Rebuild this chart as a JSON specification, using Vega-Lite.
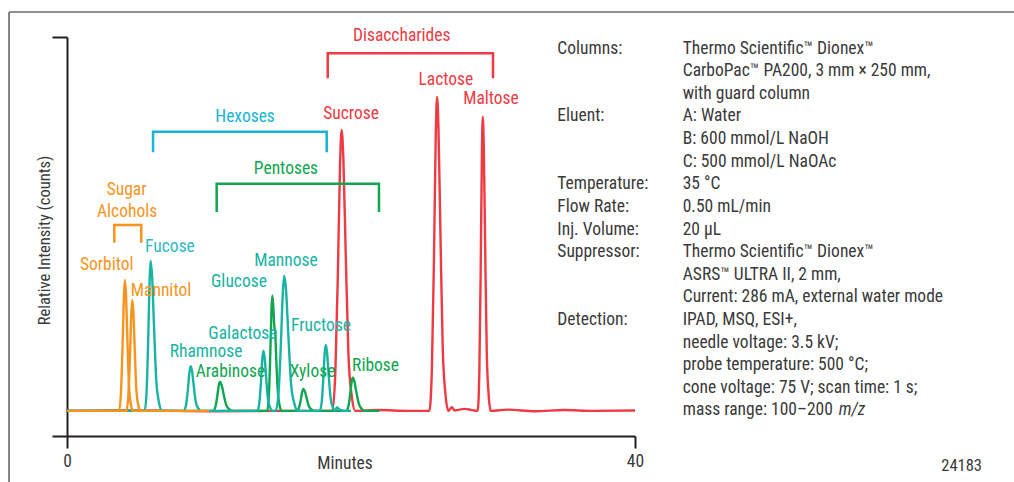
{
  "$schema": "https://vega.github.io/schema/vega-lite/v6.json",
  "width": 568,
  "height": 399,
  "autosize": {"type": "none"},
  "padding": {"left": 67, "top": 37, "right": 379, "bottom": 46},
  "background": "white",
  "config": {
    "view": {"stroke": null},
    "font": "Liberation Sans Narrow, Arial Narrow, Roboto Condensed, DejaVu Sans Condensed, sans-serif"
  },
  "datasets": {
    "traces": [
      {"s": "1r", "c": "R", "t": 0, "v": 6.3}, {"s": "1r", "c": "R", "t": 5, "v": 6.4}, {"s": "1r", "c": "R", "t": 10, "v": 6.2}, {"s": "1r", "c": "R", "t": 15, "v": 6.3},
      {"s": "1r", "c": "R", "t": 18.68, "v": 6.3}, {"s": "1r", "c": "R", "t": 18.9, "v": 16.2}, {"s": "1r", "c": "R", "t": 19.076, "v": 40.8}, {"s": "1r", "c": "R", "t": 19.23, "v": 68.3}, {"s": "1r", "c": "R", "t": 19.34, "v": 76.7}, {"s": "1r", "c": "R", "t": 19.46, "v": 69.7}, {"s": "1r", "c": "R", "t": 19.628, "v": 45.7}, {"s": "1r", "c": "R", "t": 19.82, "v": 20.4}, {"s": "1r", "c": "R", "t": 20.06, "v": 9.8}, {"s": "1r", "c": "R", "t": 20.3, "v": 6.3},
      {"s": "1r", "c": "R", "t": 22, "v": 6.5}, {"s": "1r", "c": "R", "t": 24, "v": 6.3},
      {"s": "1r", "c": "R", "t": 25.52, "v": 6.3}, {"s": "1r", "c": "R", "t": 25.7, "v": 17.3}, {"s": "1r", "c": "R", "t": 25.844, "v": 44.9}, {"s": "1r", "c": "R", "t": 25.97, "v": 75.6}, {"s": "1r", "c": "R", "t": 26.06, "v": 85.0}, {"s": "1r", "c": "R", "t": 26.16, "v": 77.1}, {"s": "1r", "c": "R", "t": 26.3, "v": 50.4}, {"s": "1r", "c": "R", "t": 26.46, "v": 22.0}, {"s": "1r", "c": "R", "t": 26.66, "v": 10.2}, {"s": "1r", "c": "R", "t": 26.86, "v": 6.3},
      {"s": "1r", "c": "R", "t": 27.1, "v": 7.2}, {"s": "1r", "c": "R", "t": 27.3, "v": 6.4}, {"s": "1r", "c": "R", "t": 28.0, "v": 6.8}, {"s": "1r", "c": "R", "t": 28.5, "v": 6.5},
      {"s": "1r", "c": "R", "t": 28.92, "v": 6.3}, {"s": "1r", "c": "R", "t": 29.04, "v": 16.6}, {"s": "1r", "c": "R", "t": 29.136, "v": 42.4}, {"s": "1r", "c": "R", "t": 29.22, "v": 71.2}, {"s": "1r", "c": "R", "t": 29.28, "v": 80.0}, {"s": "1r", "c": "R", "t": 29.35, "v": 72.6}, {"s": "1r", "c": "R", "t": 29.448, "v": 47.6}, {"s": "1r", "c": "R", "t": 29.56, "v": 21.0}, {"s": "1r", "c": "R", "t": 29.7, "v": 10.0}, {"s": "1r", "c": "R", "t": 29.84, "v": 6.3},
      {"s": "1r", "c": "R", "t": 31, "v": 6.6}, {"s": "1r", "c": "R", "t": 33, "v": 6.2}, {"s": "1r", "c": "R", "t": 35, "v": 6.5}, {"s": "1r", "c": "R", "t": 37, "v": 6.3}, {"s": "1r", "c": "R", "t": 40, "v": 6.4},

      {"s": "2g", "c": "G", "t": 0, "v": 6.3}, {"s": "2g", "c": "G", "t": 10.29, "v": 6.3}, {"s": "2g", "c": "G", "t": 10.45, "v": 7.3}, {"s": "2g", "c": "G", "t": 10.578, "v": 9.9}, {"s": "2g", "c": "G", "t": 10.69, "v": 12.7}, {"s": "2g", "c": "G", "t": 10.77, "v": 13.6}, {"s": "2g", "c": "G", "t": 10.88, "v": 12.9}, {"s": "2g", "c": "G", "t": 11.034, "v": 10.4}, {"s": "2g", "c": "G", "t": 11.21, "v": 7.8}, {"s": "2g", "c": "G", "t": 11.43, "v": 6.7}, {"s": "2g", "c": "G", "t": 11.65, "v": 6.3},
      {"s": "2g", "c": "G", "t": 14.1, "v": 6.3}, {"s": "2g", "c": "G", "t": 14.22, "v": 10.3}, {"s": "2g", "c": "G", "t": 14.316, "v": 20.5}, {"s": "2g", "c": "G", "t": 14.4, "v": 31.7}, {"s": "2g", "c": "G", "t": 14.46, "v": 35.2}, {"s": "2g", "c": "G", "t": 14.53, "v": 32.3}, {"s": "2g", "c": "G", "t": 14.6, "v": 27.5}, {"s": "2g", "c": "G", "t": 14.66, "v": 26.2}, {"s": "2g", "c": "G", "t": 14.74, "v": 19.0}, {"s": "2g", "c": "G", "t": 14.85, "v": 11.0}, {"s": "2g", "c": "G", "t": 14.98, "v": 7.5}, {"s": "2g", "c": "G", "t": 15.12, "v": 6.3},
      {"s": "2g", "c": "G", "t": 16.19, "v": 6.3}, {"s": "2g", "c": "G", "t": 16.34, "v": 7.1}, {"s": "2g", "c": "G", "t": 16.46, "v": 9.0}, {"s": "2g", "c": "G", "t": 16.565, "v": 11.1}, {"s": "2g", "c": "G", "t": 16.64, "v": 11.8}, {"s": "2g", "c": "G", "t": 16.74, "v": 11.3}, {"s": "2g", "c": "G", "t": 16.88, "v": 9.4}, {"s": "2g", "c": "G", "t": 17.04, "v": 7.4}, {"s": "2g", "c": "G", "t": 17.24, "v": 6.6}, {"s": "2g", "c": "G", "t": 17.44, "v": 6.3},
      {"s": "2g", "c": "G", "t": 19.67, "v": 6.3}, {"s": "2g", "c": "G", "t": 19.82, "v": 7.5}, {"s": "2g", "c": "G", "t": 19.94, "v": 10.4}, {"s": "2g", "c": "G", "t": 20.045, "v": 13.6}, {"s": "2g", "c": "G", "t": 20.12, "v": 14.6}, {"s": "2g", "c": "G", "t": 20.23, "v": 13.8}, {"s": "2g", "c": "G", "t": 20.384, "v": 10.9}, {"s": "2g", "c": "G", "t": 20.56, "v": 8.0}, {"s": "2g", "c": "G", "t": 20.78, "v": 6.7}, {"s": "2g", "c": "G", "t": 21.0, "v": 6.3}, {"s": "2g", "c": "G", "t": 22, "v": 6.3},

      {"s": "3t", "c": "T", "t": 0, "v": 6.3}, {"s": "3t", "c": "T", "t": 5.47, "v": 6.3}, {"s": "3t", "c": "T", "t": 5.61, "v": 11.6}, {"s": "3t", "c": "T", "t": 5.722, "v": 24.7}, {"s": "3t", "c": "T", "t": 5.82, "v": 39.4}, {"s": "3t", "c": "T", "t": 5.89, "v": 43.9}, {"s": "3t", "c": "T", "t": 5.99, "v": 40.1}, {"s": "3t", "c": "T", "t": 6.13, "v": 27.4}, {"s": "3t", "c": "T", "t": 6.29, "v": 13.8}, {"s": "3t", "c": "T", "t": 6.49, "v": 8.2}, {"s": "3t", "c": "T", "t": 6.69, "v": 6.3},
      {"s": "3t", "c": "T", "t": 8.23, "v": 6.3}, {"s": "3t", "c": "T", "t": 8.39, "v": 7.9}, {"s": "3t", "c": "T", "t": 8.518, "v": 11.8}, {"s": "3t", "c": "T", "t": 8.63, "v": 16.2}, {"s": "3t", "c": "T", "t": 8.71, "v": 17.5}, {"s": "3t", "c": "T", "t": 8.8, "v": 16.4}, {"s": "3t", "c": "T", "t": 8.926, "v": 12.6}, {"s": "3t", "c": "T", "t": 9.07, "v": 8.5}, {"s": "3t", "c": "T", "t": 9.25, "v": 6.9}, {"s": "3t", "c": "T", "t": 9.43, "v": 6.3},
      {"s": "3t", "c": "T", "t": 13.41, "v": 6.3}, {"s": "3t", "c": "T", "t": 13.55, "v": 8.4}, {"s": "3t", "c": "T", "t": 13.662, "v": 13.7}, {"s": "3t", "c": "T", "t": 13.76, "v": 19.6}, {"s": "3t", "c": "T", "t": 13.83, "v": 21.4}, {"s": "3t", "c": "T", "t": 13.91, "v": 19.9}, {"s": "3t", "c": "T", "t": 14.022, "v": 14.8}, {"s": "3t", "c": "T", "t": 14.15, "v": 9.3}, {"s": "3t", "c": "T", "t": 14.31, "v": 7.1}, {"s": "3t", "c": "T", "t": 14.47, "v": 6.3},
      {"s": "3t", "c": "T", "t": 14.7, "v": 6.3}, {"s": "3t", "c": "T", "t": 14.9, "v": 11.0}, {"s": "3t", "c": "T", "t": 15.06, "v": 22.9}, {"s": "3t", "c": "T", "t": 15.2, "v": 36.1}, {"s": "3t", "c": "T", "t": 15.3, "v": 40.2}, {"s": "3t", "c": "T", "t": 15.42, "v": 36.8}, {"s": "3t", "c": "T", "t": 15.588, "v": 25.3}, {"s": "3t", "c": "T", "t": 15.78, "v": 13.1}, {"s": "3t", "c": "T", "t": 16.02, "v": 8.0}, {"s": "3t", "c": "T", "t": 16.26, "v": 6.3},
      {"s": "3t", "c": "T", "t": 17.8, "v": 6.3}, {"s": "3t", "c": "T", "t": 17.94, "v": 8.6}, {"s": "3t", "c": "T", "t": 18.052, "v": 14.4}, {"s": "3t", "c": "T", "t": 18.15, "v": 20.8}, {"s": "3t", "c": "T", "t": 18.22, "v": 22.8}, {"s": "3t", "c": "T", "t": 18.305, "v": 21.2}, {"s": "3t", "c": "T", "t": 18.424, "v": 15.5}, {"s": "3t", "c": "T", "t": 18.56, "v": 9.6}, {"s": "3t", "c": "T", "t": 18.73, "v": 7.1}, {"s": "3t", "c": "T", "t": 18.9, "v": 6.3},
      {"s": "3t", "c": "T", "t": 19.0, "v": 7.2}, {"s": "3t", "c": "T", "t": 19.2, "v": 6.6}, {"s": "3t", "c": "T", "t": 19.5, "v": 6.3}, {"s": "3t", "c": "T", "t": 20, "v": 6.3},

      {"s": "4o", "c": "A", "t": 0, "v": 6.3}, {"s": "4o", "c": "A", "t": 3.66, "v": 6.3}, {"s": "4o", "c": "A", "t": 3.8, "v": 10.9}, {"s": "4o", "c": "A", "t": 3.912, "v": 22.4}, {"s": "4o", "c": "A", "t": 4.01, "v": 35.2}, {"s": "4o", "c": "A", "t": 4.08, "v": 39.1}, {"s": "4o", "c": "A", "t": 4.15, "v": 35.8}, {"s": "4o", "c": "A", "t": 4.248, "v": 24.7}, {"s": "4o", "c": "A", "t": 4.36, "v": 12.9}, {"s": "4o", "c": "A", "t": 4.5, "v": 7.9}, {"s": "4o", "c": "A", "t": 4.64, "v": 6.3}, {"s": "4o", "c": "A", "t": 10, "v": 6.3},

      {"s": "5o", "c": "A", "t": 3.6, "v": 6.3}, {"s": "5o", "c": "A", "t": 4.18, "v": 6.3}, {"s": "5o", "c": "A", "t": 4.32, "v": 10.2}, {"s": "5o", "c": "A", "t": 4.432, "v": 19.9}, {"s": "5o", "c": "A", "t": 4.53, "v": 30.8}, {"s": "5o", "c": "A", "t": 4.6, "v": 34.1}, {"s": "5o", "c": "A", "t": 4.67, "v": 31.3}, {"s": "5o", "c": "A", "t": 4.768, "v": 21.9}, {"s": "5o", "c": "A", "t": 4.88, "v": 11.9}, {"s": "5o", "c": "A", "t": 5.02, "v": 7.7}, {"s": "5o", "c": "A", "t": 5.16, "v": 6.3}, {"s": "5o", "c": "A", "t": 6.0, "v": 6.3}
    ],
    "brackets": [
      {"g": "dis", "c": "R", "i": 0, "t": 18.36, "v": 89.65}, {"g": "dis", "c": "R", "i": 1, "t": 18.36, "v": 95.91}, {"g": "dis", "c": "R", "i": 2, "t": 30.0, "v": 95.91}, {"g": "dis", "c": "R", "i": 3, "t": 30.0, "v": 89.65},
      {"g": "hex", "c": "C", "i": 0, "t": 6.06, "v": 71.1}, {"g": "hex", "c": "C", "i": 1, "t": 6.06, "v": 76.27}, {"g": "hex", "c": "C", "i": 2, "t": 18.29, "v": 76.27}, {"g": "hex", "c": "C", "i": 3, "t": 18.29, "v": 71.1},
      {"g": "pen", "c": "G", "i": 0, "t": 10.54, "v": 56.14}, {"g": "pen", "c": "G", "i": 1, "t": 10.54, "v": 63.23}, {"g": "pen", "c": "G", "i": 2, "t": 21.97, "v": 63.23}, {"g": "pen", "c": "G", "i": 3, "t": 21.97, "v": 56.14},
      {"g": "alc", "c": "A", "i": 0, "t": 3.33, "v": 48.45}, {"g": "alc", "c": "A", "i": 1, "t": 3.33, "v": 52.88}, {"g": "alc", "c": "A", "i": 2, "t": 5.23, "v": 52.88}, {"g": "alc", "c": "A", "i": 3, "t": 5.23, "v": 48.45}
    ],
    "frame": [
      {"t": -4.08, "v": 106.27, "t2": -4.08, "v2": -15},
      {"t": -4.08, "v": 106.27, "t2": 70, "v2": 106.27}
    ],
    "labels": [
      {"txt": "Disaccharides", "c": "R", "t": 23.57, "v": 100.33},
      {"txt": "Lactose", "c": "R", "t": 26.68, "v": 89.22},
      {"txt": "Maltose", "c": "R", "t": 29.86, "v": 84.54},
      {"txt": "Sucrose", "c": "R", "t": 20.0, "v": 80.7},
      {"txt": "Hexoses", "c": "C", "t": 12.54, "v": 80.03},
      {"txt": "Pentoses", "c": "G", "t": 15.42, "v": 66.92},
      {"txt": "Sugar", "c": "A", "t": 4.2, "v": 61.65},
      {"txt": "Alcohols", "c": "A", "t": 4.23, "v": 56.07},
      {"txt": "Fucose", "c": "C2", "t": 7.25, "v": 47.29},
      {"txt": "Mannose", "c": "T", "t": 15.42, "v": 43.93},
      {"txt": "Sorbitol", "c": "A", "t": 2.8, "v": 42.86},
      {"txt": "Glucose", "c": "T", "t": 12.11, "v": 38.67},
      {"txt": "Mannitol", "c": "A", "t": 6.62, "v": 36.42},
      {"txt": "Fructose", "c": "T", "t": 17.89, "v": 27.64},
      {"txt": "Galactose", "c": "T", "t": 12.39, "v": 25.56},
      {"txt": "Rhamnose", "c": "T", "t": 9.79, "v": 21.13},
      {"txt": "Arabinose", "c": "G", "t": 11.51, "v": 16.12},
      {"txt": "Xylose", "c": "G", "t": 17.29, "v": 16.12},
      {"txt": "Ribose", "c": "G", "t": 21.73, "v": 17.54}
    ],
    "info": [
      {"txt": "Columns:", "t": 34.53, "v": 97.07},
      {"txt": "Thermo Scientific™ Dionex™", "t": 43.36, "v": 97.07},
      {"txt": "CarboPac™ PA200, 3 mm × 250 mm,", "t": 43.36, "v": 91.4},
      {"txt": "with guard column", "t": 43.36, "v": 85.74},
      {"txt": "Eluent:", "t": 34.53, "v": 80.08},
      {"txt": "A: Water", "t": 43.36, "v": 80.08},
      {"txt": "B: 600 mmol/L NaOH", "t": 43.36, "v": 74.41},
      {"txt": "C: 500 mmol/L NaOAc", "t": 43.36, "v": 68.75},
      {"txt": "Temperature:", "t": 34.53, "v": 63.08},
      {"txt": "35 °C", "t": 43.36, "v": 63.08},
      {"txt": "Flow Rate:", "t": 34.53, "v": 57.42},
      {"txt": "0.50 mL/min", "t": 43.36, "v": 57.42},
      {"txt": "Inj. Volume:", "t": 34.53, "v": 51.75},
      {"txt": "20 µL", "t": 43.36, "v": 51.75},
      {"txt": "Suppressor:", "t": 34.53, "v": 46.09},
      {"txt": "Thermo Scientific™ Dionex™", "t": 43.36, "v": 46.09},
      {"txt": "ASRS™ ULTRA II, 2 mm,", "t": 43.36, "v": 40.43},
      {"txt": "Current: 286 mA, external water mode", "t": 43.36, "v": 34.76},
      {"txt": "Detection:", "t": 34.53, "v": 29.1},
      {"txt": "IPAD, MSQ, ESI+,", "t": 43.36, "v": 29.1},
      {"txt": "needle voltage: 3.5 kV;", "t": 43.36, "v": 23.43},
      {"txt": "probe temperature: 500 °C;", "t": 43.36, "v": 17.77},
      {"txt": "cone voltage: 75 V; scan time: 1 s;", "t": 43.36, "v": 12.11},
      {"txt": "mass range: 100–200", "t": 43.36, "v": 6.44}
    ],
    "italic": [
      {"txt": "m/z", "t": 54.35, "v": 6.44}
    ],
    "fignum": [
      {"txt": "24183", "t": 63.0, "v": -7.52}
    ]
  },
  "layer": [
    {
      "data": {"name": "traces"},
      "mark": {"type": "line", "strokeWidth": 2.4, "interpolate": "monotone"},
      "encoding": {
        "x": {
          "field": "t", "type": "quantitative",
          "scale": {"domain": [0, 40], "nice": false, "zero": false},
          "axis": {
            "title": "Minutes", "values": [0, 40], "format": "d", "grid": false, "labelFlush": false,
            "tickSize": 12, "tickWidth": 2, "tickColor": "#231f20", "domainColor": "#231f20", "domainWidth": 2,
            "labelFontSize": 17.5, "labelColor": "#3a3a3a", "labelPadding": 4,
            "titleFontSize": 17.5, "titleFontWeight": "normal", "titleColor": "#3a3a3a",
            "titleX": 277.5, "titleY": 27, "titleBaseline": "middle"
          }
        },
        "y": {
          "field": "v", "type": "quantitative",
          "scale": {"domain": [0, 100], "nice": false, "zero": false},
          "axis": {
            "title": "Relative Intensity (counts)", "values": [0, 100], "labels": false, "grid": false,
            "tickSize": 15, "tickWidth": 2, "tickColor": "#231f20", "domainColor": "#231f20", "domainWidth": 2,
            "titleFontSize": 16.5, "titleFontWeight": "normal", "titleColor": "#3a3a3a",
            "titleX": -23, "titleY": 203, "titleAngle": 270, "titleBaseline": "middle"
          }
        },
        "color": {
          "field": "c", "type": "nominal", "legend": null,
          "scale": {"domain": ["R", "G", "T", "A", "C", "C2"], "range": ["#ee3a43", "#0ea64f", "#17b3a3", "#f7941d", "#16b6d3", "#2fb8c8"]}
        },
        "detail": {"field": "s", "type": "nominal"}
      }
    },
    {
      "data": {"name": "frame"},
      "mark": {"type": "rule", "color": "#6d6e71", "strokeWidth": 1.7},
      "encoding": {
        "x": {"field": "t", "type": "quantitative"},
        "y": {"field": "v", "type": "quantitative"},
        "x2": {"field": "t2"},
        "y2": {"field": "v2"}
      }
    },
    {
      "data": {"name": "brackets"},
      "mark": {"type": "line", "strokeWidth": 2.5},
      "encoding": {
        "x": {"field": "t", "type": "quantitative"},
        "y": {"field": "v", "type": "quantitative"},
        "color": {"field": "c", "type": "nominal", "legend": null},
        "detail": {"field": "g", "type": "nominal"},
        "order": {"field": "i", "type": "quantitative"}
      }
    },
    {
      "data": {"name": "labels"},
      "mark": {"type": "text", "align": "center", "baseline": "middle", "fontSize": 17.5},
      "encoding": {
        "x": {"field": "t", "type": "quantitative"},
        "y": {"field": "v", "type": "quantitative"},
        "text": {"field": "txt", "type": "nominal"},
        "color": {"field": "c", "type": "nominal", "legend": null}
      }
    },
    {
      "data": {"name": "info"},
      "mark": {"type": "text", "align": "left", "baseline": "middle", "fontSize": 17.5, "color": "#3a3a3a"},
      "encoding": {
        "x": {"field": "t", "type": "quantitative"},
        "y": {"field": "v", "type": "quantitative"},
        "text": {"field": "txt", "type": "nominal"}
      }
    },
    {
      "data": {"name": "italic"},
      "mark": {"type": "text", "align": "left", "baseline": "middle", "fontSize": 17.5, "fontStyle": "italic", "color": "#3a3a3a"},
      "encoding": {
        "x": {"field": "t", "type": "quantitative"},
        "y": {"field": "v", "type": "quantitative"},
        "text": {"field": "txt", "type": "nominal"}
      }
    },
    {
      "data": {"name": "fignum"},
      "mark": {"type": "text", "align": "center", "baseline": "middle", "fontSize": 16.5, "color": "#3a3a3a"},
      "encoding": {
        "x": {"field": "t", "type": "quantitative"},
        "y": {"field": "v", "type": "quantitative"},
        "text": {"field": "txt", "type": "nominal"}
      }
    }
  ]
}
